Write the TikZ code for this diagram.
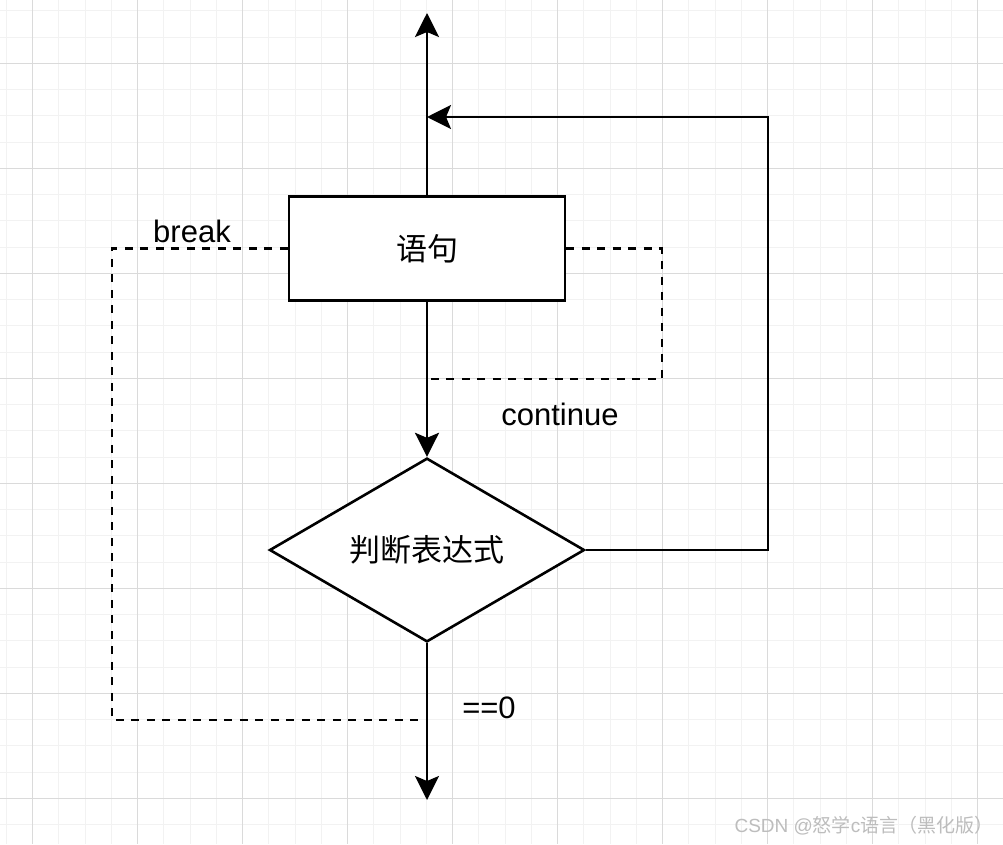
\documentclass[tikz,border=0pt]{standalone}
\usepackage{fontspec}
\setmainfont{Liberation Sans}
\newfontfamily\cjk{Noto Sans CJK SC}
\usetikzlibrary{arrows.meta,shapes.geometric}
\definecolor{gminor}{HTML}{F2F2F2}
\definecolor{gmajor}{HTML}{DADADA}
\definecolor{wm}{HTML}{BDBDBD}
\tikzset{
  conn/.style={line width=2.6pt},
  arr/.style={conn,-{Stealth[length=24pt,width=24pt,inset=5pt]}},
  dashconn/.style={line width=2.8pt,dash pattern=on 8pt off 7.5pt},
  stmtbox/.style={draw,line width=2.6pt,minimum width=276pt,minimum height=104pt,inner sep=0pt,font=\cjk\fontsize{31}{36}\selectfont},
  decide/.style={draw,diamond,line width=2.6pt,minimum width=315pt,minimum height=182pt,inner sep=0pt,font=\cjk\fontsize{31}{36}\selectfont},
  lbl/.style={inner sep=0pt,font=\fontsize{31}{36}\selectfont},
}
\begin{document}
\begin{tikzpicture}[x=1pt,y=-1pt]
\useasboundingbox (0,0) rectangle (1003,844);
\fill[white] (0,0) rectangle (1003,844);
% grid
\foreach \i in {0,...,38} {
  \pgfmathsetmacro\gx{6.45+26.25*\i}
  \draw[gminor,line width=1pt] (\gx,0) -- (\gx,844);
}
\foreach \j in {0,...,31} {
  \pgfmathsetmacro\gy{10.8+26.25*\j}
  \draw[gminor,line width=1pt] (0,\gy) -- (1003,\gy);
}
\foreach \i in {0,...,9} {
  \pgfmathsetmacro\gx{32.7+105*\i}
  \draw[gmajor,line width=1pt] (\gx,0) -- (\gx,844);
}
\foreach \j in {0,...,7} {
  \pgfmathsetmacro\gy{63.3+105*\j}
  \draw[gmajor,line width=1pt] (0,\gy) -- (1003,\gy);
}
% nodes
\node[stmtbox,fill=white] (s) at (427,248.5) {语句};
\node[decide,fill=white] (d) at (427,550) {判断表达式};
\coordinate (top) at (427,13);
\coordinate (loopin) at (427,117);
\coordinate (rtop) at (768,117);
\coordinate (rbot) at (768,550);
\coordinate (bot) at (427,800);
\coordinate (cr) at (662,248.5);
\coordinate (cont) at (427,379);
\coordinate (bl) at (112,248.5);
\coordinate (brk) at (427,720);
% connectors
\draw[arr] (s.north) -- (top);
\draw[arr] (d.east) -- (rbot) -- (rtop) -- (loopin);
\draw[arr] (s.south) -- (d.north);
\draw[arr] (d.south) -- (bot);
\draw[dashconn] (s.east) -- (cr) |- (cont);
\draw[dashconn] (s.west) -- (bl) |- (brk);
% labels
\node[lbl] (lbreak) at (192,231) {break};
\node[lbl] (lcont) at (560,414) {continue};
\node[lbl] (lzero) at (489,708) {==0};
\node[inner sep=0pt,text=wm,font=\fontsize{19}{21}\selectfont] (wmark) at (864,826) {CSDN @{\cjk 怒学}c{\cjk 语言（黑化版）}};
\end{tikzpicture}
\end{document}
